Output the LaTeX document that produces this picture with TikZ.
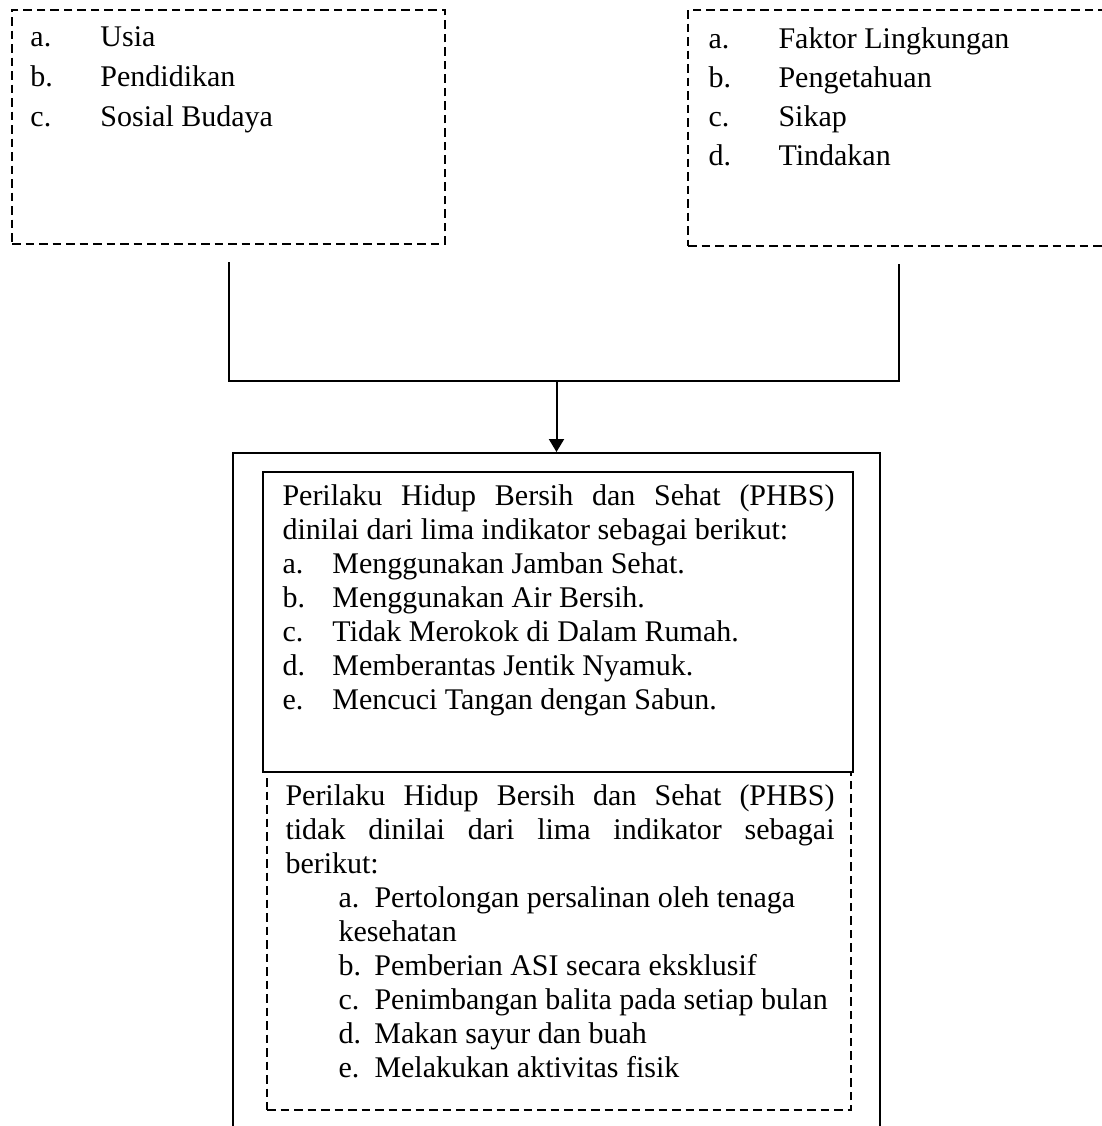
\documentclass[tikz,border=0pt]{standalone}
\usepackage{fontspec}
\setmainfont{Liberation Serif}
\usetikzlibrary{positioning, fit, calc, arrows.meta}
\tikzset{
  garis/.style={line width=0.8pt, draw=black},
  kotak/.style={garis, rectangle, inner sep=0pt},
  kotakputus/.style={kotak, dash pattern=on 3.4pt off 2pt},
  isi/.style={anchor=base west, inner sep=0pt, font=\fontsize{12pt}{13.6pt}\selectfont},
}
\newcommand{\huruf}[2]{\makebox[#1][l]{#2}}

\begin{document}
\begin{tikzpicture}[x=0.4pt, y=0.4pt]
    \useasboundingbox (0,0) rectangle (1101,-1126);

    \node[kotakputus, fit={(12,-10) (445,-244)}] (kiri) {};
    \node[kotakputus, fit={(688,-10) (1110,-246)}] (kanan) {};
    \node[isi, font=\fontsize{12pt}{16pt}\selectfont] (kiriTeks) at (30,-46)
      {\parbox[t]{160pt}{\huruf{28pt}{a.}Usia\\ \huruf{28pt}{b.}Pendidikan\\
        \huruf{28pt}{c.}Sosial Budaya}};
    \node[isi, font=\fontsize{12pt}{15.6pt}\selectfont] (kananTeks) at (708,-48)
      {\parbox[t]{150pt}{\huruf{28pt}{a.}Faktor Lingkungan\\ \huruf{28pt}{b.}Pengetahuan\\
        \huruf{28pt}{c.}Sikap\\ \huruf{28pt}{d.}Tindakan}};

    \node[kotak, fit={(233,-453) (880,-1150)}] (luar) {};
    \node[kotak, fit={(263,-472) (853,-772)}] (dalam) {};
    \node[kotakputus, fit={(267,-772) (851,-1110)}] (putus) {};

    \node[isi] (dalamTeks) at (282,-505) {\parbox[t]{220.8pt}{\tolerance=10000 \hyphenpenalty=10000
      Perilaku Hidup Bersih dan Sehat (PHBS)\linebreak dinilai dari lima indikator sebagai berikut:\\
      \huruf{20pt}{a.}Menggunakan Jamban Sehat.\\
      \huruf{20pt}{b.}Menggunakan Air Bersih.\\
      \huruf{20pt}{c.}Tidak Merokok di Dalam Rumah.\\
      \huruf{20pt}{d.}Memberantas Jentik Nyamuk.\\
      \huruf{20pt}{e.}Mencuci Tangan dengan Sabun.}};
    \node[isi] (putusTeks) at (285,-805) {\parbox[t]{219.6pt}{\tolerance=10000 \hyphenpenalty=10000
      Perilaku Hidup Bersih dan Sehat (PHBS)\linebreak tidak dinilai dari lima indikator sebagai\linebreak berikut:\par
      \leftskip=21.2pt
      \huruf{14.4pt}{a.}Pertolongan persalinan oleh tenaga\\ kesehatan\\
      \huruf{14.4pt}{b.}Pemberian ASI secara eksklusif\\
      \huruf{14.4pt}{c.}Penimbangan balita pada setiap bulan\\
      \huruf{14.4pt}{d.}Makan sayur dan buah\\
      \huruf{14.4pt}{e.}Melakukan aktivitas fisik}};

    % garis penghubung
    \coordinate (kiriA) at ($(kiri.south)+(0,-17)$);
    \coordinate (kananA) at ($(kanan.south)+(0,-17)$);
    \coordinate (temu) at ($(kiriA)+(0,-119)$);
    \draw[garis] (kiriA) -- (temu) -- (temu -| kananA) -- (kananA);
    \draw[garis, -{Triangle[length=5.2pt, width=6pt]}] (temu -| luar.north) -- (luar.north);
\end{tikzpicture}
\end{document}
